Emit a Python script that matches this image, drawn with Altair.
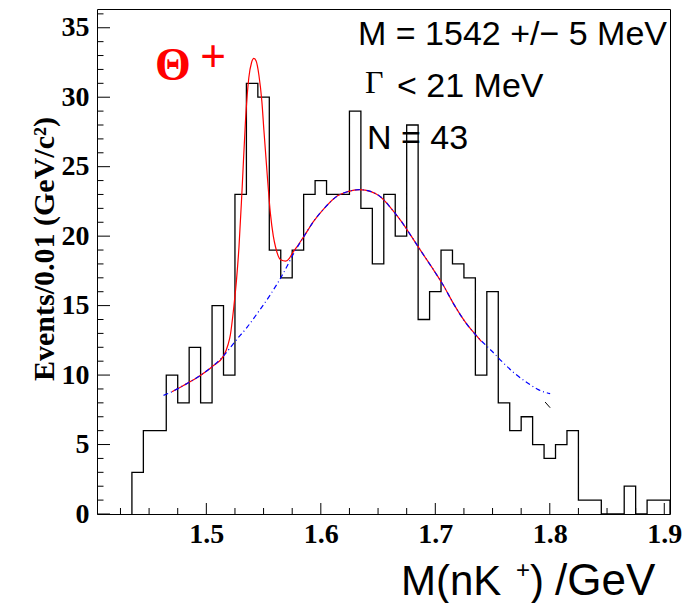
import altair as alt
import pandas as pd

# Histogram: 0.01 GeV bins starting at 1.435 GeV
BIN_START = 1.435
BIN_WIDTH = 0.01
counts = [3, 6, 6, 10, 8, 12, 8, 15, 10, 23,
          31, 30, 19, 17, 19, 23, 24, 23, 23, 29,
          22, 18, 23, 20, 28, 14, 16, 19, 18, 17,
          10, 16, 8, 6, 7, 5, 4, 5, 6, 1,
          1, 0, 0, 2, 0, 1, 1]

# Total fit (signal + background)
fit_x = [1.470, 1.480, 1.4947, 1.505, 1.5152, 1.519, 1.521, 1.524, 1.5263, 1.5285,
         1.5313, 1.5342, 1.5371, 1.5395, 1.5415, 1.5435, 1.5459, 1.5485, 1.5503, 1.5532,
         1.556, 1.5585, 1.5605, 1.5649, 1.5693, 1.5725, 1.575, 1.5805, 1.5854, 1.594,
         1.603, 1.6146, 1.6234, 1.6336, 1.6439, 1.6526, 1.6614, 1.670, 1.679, 1.6877,
         1.6994, 1.7067, 1.7169, 1.7272, 1.7374, 1.7404]
fit_y = [8.8, 9.25, 9.97, 10.6, 11.4, 12.2, 12.9, 14.9, 16.8, 19.2,
         23.5, 28.3, 31.4, 32.5, 32.8, 32.6, 31.6, 29.7, 27.6, 24.4,
         21.6, 20.0, 19.2, 18.3, 18.2, 18.4, 18.75, 19.4, 20.0, 21.1,
         22.0, 22.9, 23.2, 23.35, 23.2, 22.8, 22.0, 21.1, 20.0, 18.9,
         17.45, 16.5, 15.0, 13.7, 12.7, 12.4]

# Background component
bg_x = [1.4626, 1.470, 1.480, 1.4947, 1.505, 1.5152, 1.5254, 1.5357, 1.5459, 1.556,
        1.5664, 1.5766, 1.5854, 1.594, 1.603, 1.6146, 1.6234, 1.6336, 1.6439, 1.6526,
        1.6614, 1.670, 1.679, 1.6877, 1.6994, 1.7067, 1.7169, 1.7272, 1.7374, 1.7491,
        1.7579, 1.7696, 1.7813, 1.790, 1.8003]
bg_y = [8.54, 8.8, 9.25, 9.97, 10.6, 11.4, 12.45, 13.45, 14.6, 15.8,
        17.2, 18.8, 20.0, 21.1, 22.0, 22.9, 23.2, 23.35, 23.2, 22.8,
        22.0, 21.1, 20.0, 18.9, 17.45, 16.5, 15.0, 13.7, 12.7, 11.75,
        11.0, 10.1, 9.4, 8.95, 8.66]

# Short black stub at the end of the fit range
stub_x = [1.7959, 1.8003]
stub_y = [8.06, 7.65]

x_major = [1.5, 1.6, 1.7, 1.8, 1.9]
x_minor = [1.425, 1.45, 1.475, 1.525, 1.55, 1.575, 1.625, 1.65, 1.675,
           1.725, 1.75, 1.775, 1.825, 1.85, 1.875]
y_major = [0, 5, 10, 15, 20, 25, 30, 35]
y_minor = [v for v in range(1, 37) if v % 5 != 0]

X_DOMAIN = [1.4045, 1.905]
Y_DOMAIN = [0, 36.35]
W, H = 573, 505

SANS = "Liberation Sans"
SERIF = "Liberation Serif"

# step outline of the histogram
edges = [BIN_START + BIN_WIDTH * i for i in range(len(counts) + 1)]
hx = [edges[0]] + edges[:-1] + [edges[-1]]
hy = [0] + counts + [0]
hist_df = pd.DataFrame({"x": hx, "y": hy, "i": range(len(hx))})

xs = alt.Scale(domain=X_DOMAIN, nice=False, zero=False)
ys = alt.Scale(domain=Y_DOMAIN, nice=False, zero=False)

x_axis = alt.Axis(values=x_major, format=".1f", ticks=False, domain=False, grid=False,
                  labelFont=SERIF, labelFontWeight="bold", labelFontSize=28,
                  labelPadding=6, labelFlush=False, labelColor="black", title=None)
y_axis = alt.Axis(values=y_major, format="d", ticks=False, domain=False, grid=False,
                  labelFont=SERIF, labelFontWeight="bold", labelFontSize=28,
                  labelPadding=8, labelColor="black", title=None)

X = alt.X("x:Q", scale=xs, axis=x_axis)
Y = alt.Y("y:Q", scale=ys, axis=y_axis)

hist = alt.Chart(hist_df).mark_line(interpolate="step-after", color="black",
                                    strokeWidth=1.3).encode(x=X, y=Y, order="i:Q")

fit = alt.Chart(pd.DataFrame({"x": fit_x, "y": fit_y})).mark_line(
    color="#ff0000", strokeWidth=1.2, interpolate="monotone").encode(x=X, y=Y)

bg = alt.Chart(pd.DataFrame({"x": bg_x, "y": bg_y})).mark_line(
    color="#0000ff", strokeWidth=1.2, strokeDash=[5, 3, 1, 3],
    interpolate="monotone").encode(x=X, y=Y)

stub = alt.Chart(pd.DataFrame({"x": stub_x, "y": stub_y})).mark_line(
    color="black", strokeWidth=1).encode(x=X, y=Y)


def xticks(vals, length):
    return alt.Chart(pd.DataFrame({"x": vals})).mark_rule(color="black", strokeWidth=1).encode(
        x=X, y=alt.value(H), y2=alt.value(H - length))


def yticks(vals, length):
    return alt.Chart(pd.DataFrame({"y": vals})).mark_rule(color="black", strokeWidth=1).encode(
        y=Y, x=alt.value(0), x2=alt.value(length))


one = alt.Data(values=[{}])


def label(text, px, py, font=SANS, size=34, color="black", weight="normal",
          align="left", baseline="alphabetic", angle=0):
    return alt.Chart(one).mark_text(
        text=text, font=font, fontSize=size, color=color, fontWeight=weight,
        align=align, baseline=baseline, angle=angle).encode(
        x=alt.value(px), y=alt.value(py))


texts = [
    label("M = 1542 +/\u2212 5 MeV", 261, 36),
    label("\u0393", 268, 84, font=SERIF, size=32),
    label("< 21 MeV", 300, 88),
    label("N = 43", 270, 140),
    label("\u0398", 58, 71, font=SERIF, size=46, color="#ff0000", weight="bold"),
    label("+", 116, 62, size=44, color="#ff0000", align="center"),
    label("Events/0.01 (GeV/c\u00b2)", -52, 240, font=SERIF, size=30, weight="bold",
          align="center", baseline="middle", angle=270),
    label("M(nK", 304, 586, size=42),
    label("+", 426, 569, size=24, align="center"),
    label(")", 433, 586, size=42),
    label("/GeV", 458, 586, size=44),
]

chart = alt.layer(
    hist, fit, bg, stub,
    xticks(x_major, 11), xticks(x_minor, 6),
    yticks(y_major, 13), yticks(y_minor, 6.5),
    *texts,
).properties(
    width=W, height=H,
    autosize=alt.AutoSizeParams(type="none"),
    padding={"left": 97, "top": 9, "right": 19, "bottom": 89},
    background="white",
).configure_view(stroke="black", strokeWidth=1)

chart.save("out.html", embed_options={"renderer": "svg", "actions": False})
